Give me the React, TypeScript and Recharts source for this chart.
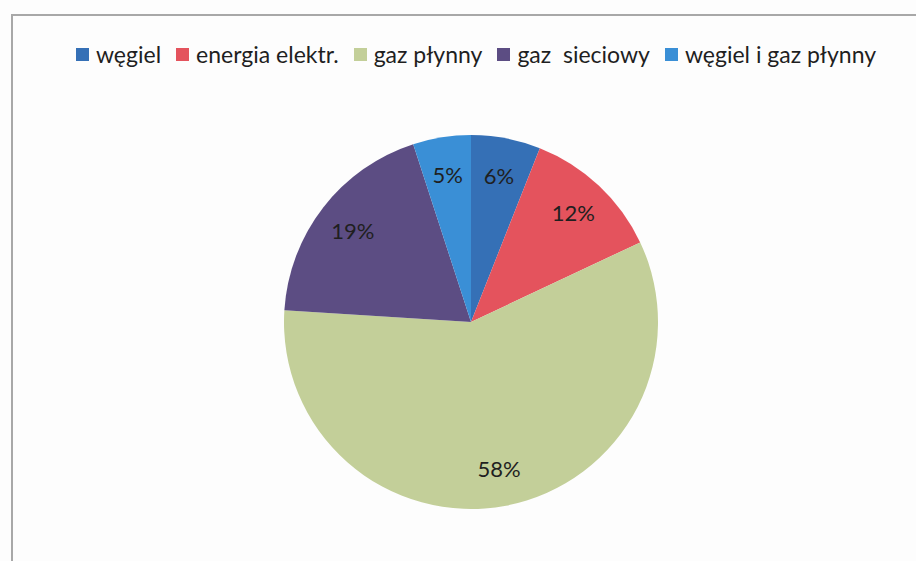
import { PieChart, Pie, Cell, Legend } from "recharts"

const categories = ["węgiel", "energia elektr.", "gaz płynny", "gaz  sieciowy", "węgiel i gaz płynny"]
const shares = [6, 12, 58, 19, 5]
const colors = ["#3570b6", "#e4535d", "#c3cf99", "#5c4d83", "#3a8fd6"]

const data = categories.map((name, i) => ({ name, value: shares[i] }))

const RADIAN = Math.PI / 180

function renderLabel(props: any) {
  const { cx, cy, midAngle, outerRadius, value } = props
  const r = outerRadius * 0.8
  const x = cx + r * Math.cos(-midAngle * RADIAN)
  const y = cy + r * Math.sin(-midAngle * RADIAN)
  return (
    <text x={x} y={y} fill="#1f1f1f" fontSize={22} textAnchor="middle" dominantBaseline="central" fontFamily="Lato, 'Open Sans', sans-serif">
      {`${value}%`}
    </text>
  )
}

function LegendContent() {
  return (
    <div style={{ display: "flex", justifyContent: "center", gap: 15, fontFamily: "Lato, 'Open Sans', sans-serif", fontSize: 23, color: "#1f1f1f", whiteSpace: "pre" }}>
      {data.map((d, i) => (
        <span key={d.name} style={{ display: "flex", alignItems: "center" }}>
          <span style={{ width: 13, height: 13, background: colors[i], marginRight: 7, display: "inline-block" }} />
          {d.name}
        </span>
      ))}
    </div>
  )
}

export default function App() {
  return (
    <div style={{ position: "absolute", left: 0, top: 0, width: 916, height: 561, background: "#fdfdfd", overflow: "hidden" }}>
      <div style={{ position: "absolute", left: 11, top: 14, width: 940, height: 600, borderTop: "2px solid #a8a8a8", borderLeft: "2px solid #a8a8a8" }} />
      <PieChart width={916} height={561} margin={{ top: 0, right: 0, bottom: 0, left: 0 }} style={{ position: "absolute", left: 0, top: 0 }}>
        <Legend layout="horizontal" verticalAlign="middle" content={<LegendContent />} wrapperStyle={{ top: 40, left: 18 }} />
        <Pie
          data={data}
          dataKey="value"
          nameKey="name"
          cx={471}
          cy={322}
          outerRadius={187}
          startAngle={90}
          endAngle={-270}
          stroke="none"
          label={renderLabel}
          labelLine={false}
          isAnimationActive={false}
        >
          {data.map((d, i) => (
            <Cell key={d.name} fill={colors[i]} />
          ))}
        </Pie>
      </PieChart>
    </div>
  )
}
